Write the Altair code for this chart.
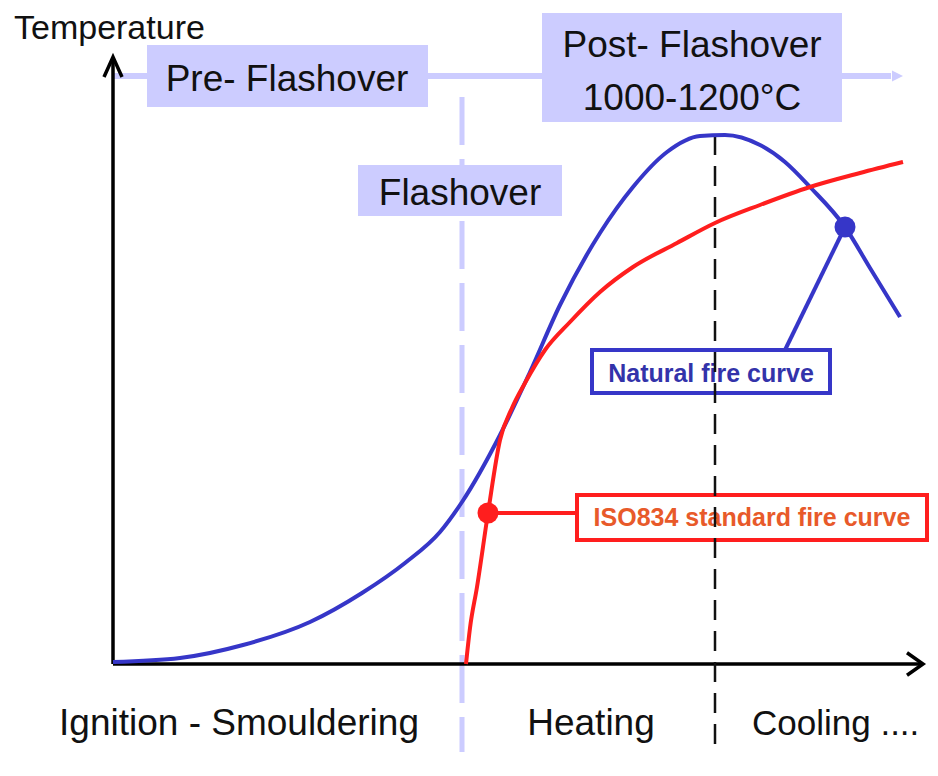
import altair as alt
import pandas as pd

# ---------------- data (schematic units: time → right, temperature → up) -------------
natural_time = [0, 67, 130, 197, 249, 292, 327, 349, 387, 417, 447, 487, 520, 554, 587, 612, 647, 672, 697, 732, 757, 787]
natural_temp = [2, 6, 19, 42, 71, 101, 132, 162, 229, 292, 359, 431, 477, 512, 528, 529, 519, 502, 477, 437, 396, 347]

iso_time = [353, 357, 364, 375, 387, 399, 412, 432, 457, 487, 520, 564, 602, 647, 697, 747, 790]
iso_temp = [0, 36, 77, 151, 224, 256, 281, 314, 342, 372, 397, 421, 441, 459, 477, 491, 502]

flashover_time = 349
peak_time = 602

phase_labels = ["Ignition - Smouldering", "Heating", "Cooling ...."]
box_labels = ["Pre- Flashover", "Post- Flashover", "1000-1200°C", "Flashover"]

# ---------------- scales ------------------------------------------------------------
W, H = 922, 760
xs = alt.Scale(domain=[-105, 817], nice=False, zero=False)
ys = alt.Scale(domain=[-104, 656], nice=False, zero=False)

LAV = "#ccccff"
BLUE = "#3636c8"
RED = "#ff1e1e"
FONT = "Liberation Sans"


def enc(**kw):
    out = {}
    for k, v in kw.items():
        if k == "x":
            out["x"] = alt.X(f"{v}:Q", scale=xs, axis=None)
        elif k == "y":
            out["y"] = alt.Y(f"{v}:Q", scale=ys, axis=None)
        elif k == "x2":
            out["x2"] = alt.X2(f"{v}:Q")
        elif k == "y2":
            out["y2"] = alt.Y2(f"{v}:Q")
        else:
            out[k] = v
    return out


# lavender phase arrow (horizontal)
phase_line = alt.Chart(pd.DataFrame({"x": [0], "x2": [778], "y": [588]})).mark_rule(
    color=LAV, strokeWidth=6).encode(**enc(x="x", x2="x2", y="y"))

phase_heads = alt.Chart(pd.DataFrame({"x": [790, 346], "y": [588, 588], "s": [484, 144]})).mark_point(
    shape="M 0 0 L -1 -0.5 L -1 0.5 Z", filled=True, color=LAV, opacity=1).encode(
    **enc(x="x", y="y"), size=alt.Size("s:Q", scale=None, legend=None))

# lavender dashed flashover line
flash_line = alt.Chart(pd.DataFrame({"x": [flashover_time], "y": [567], "y2": [-88]})).mark_rule(
    color=LAV, strokeWidth=5, strokeDash=[48, 14]).encode(**enc(x="x", y="y", y2="y2"))

# lavender boxes
lav_boxes = alt.Chart(pd.DataFrame({
    "x": [34, 429, 245], "x2": [315, 729, 449],
    "y": [619, 651, 499], "y2": [557, 542, 448]})).mark_rect(color=LAV, opacity=1).encode(
    **enc(x="x", x2="x2", y="y", y2="y2"))

# axes
axes_lines = alt.Chart(pd.DataFrame({"x": [0, 0], "x2": [0, 808], "y": [0, 0], "y2": [605, 0]})).mark_rule(
    color="black", strokeWidth=3.5).encode(**enc(x="x", x2="x2", y="y", y2="y2"))
y_head = alt.Chart(pd.DataFrame({"x": [0], "y": [607]})).mark_point(
    shape="M -0.45 1 L 0 0 L 0.45 1", filled=False, color="black", strokeWidth=3.5, size=1600,
    opacity=1).encode(**enc(x="x", y="y"))
x_head = alt.Chart(pd.DataFrame({"x": [810], "y": [0]})).mark_point(
    shape="M -1 -0.7 L 0 0 L -1 0.7", filled=False, color="black", strokeWidth=3.5, size=1024,
    opacity=1).encode(**enc(x="x", y="y"))

# curves
nat_df = pd.DataFrame({"x": natural_time, "y": natural_temp})
iso_df = pd.DataFrame({"x": iso_time, "y": iso_temp})
nat_line = alt.Chart(nat_df).mark_line(color=BLUE, strokeWidth=4, interpolate="monotone").encode(
    **enc(x="x", y="y"))
iso_line = alt.Chart(iso_df).mark_line(color=RED, strokeWidth=4, interpolate="monotone").encode(
    **enc(x="x", y="y"))

# black dashed peak line
peak_line = alt.Chart(pd.DataFrame({"x": [peak_time], "y": [529], "y2": [-81]})).mark_rule(
    color="#111111", strokeWidth=2.5, strokeDash=[20, 11]).encode(**enc(x="x", y="y", y2="y2"))

# connectors
blue_conn = alt.Chart(pd.DataFrame({"x": [732], "x2": [672], "y": [437], "y2": [314]})).mark_rule(
    color=BLUE, strokeWidth=4).encode(**enc(x="x", x2="x2", y="y", y2="y2"))
red_conn = alt.Chart(pd.DataFrame({"x": [375], "x2": [464], "y": [151]})).mark_rule(
    color=RED, strokeWidth=4).encode(**enc(x="x", x2="x2", y="y"))

# legend boxes
nat_box = alt.Chart(pd.DataFrame({"x": [479], "x2": [717], "y": [314], "y2": [271]})).mark_rect(
    fill="white", stroke=BLUE, strokeWidth=4).encode(**enc(x="x", x2="x2", y="y", y2="y2"))
iso_box = alt.Chart(pd.DataFrame({"x": [464], "x2": [814], "y": [169], "y2": [124]})).mark_rect(
    fill="white", stroke=RED, strokeWidth=4).encode(**enc(x="x", x2="x2", y="y", y2="y2"))

# markers
markers = alt.Chart(pd.DataFrame({"x": [375, 732], "y": [151, 437], "c": [RED, BLUE]})).mark_point(
    shape="circle", filled=True, size=440, opacity=1).encode(
    **enc(x="x", y="y"), color=alt.Color("c:N", scale=None, legend=None))

# texts
big_text_df = pd.DataFrame({
    "t": box_labels + phase_labels[:2],
    "x": [174, 579, 579, 347, 126, 478],
    "y": [573, 607, 554, 459, -71, -71]})
big_text = alt.Chart(big_text_df).mark_text(
    font=FONT, fontSize=37, color="#111111", align="center", baseline="alphabetic").encode(
    **enc(x="x", y="y"), text="t:N")

temp_text = alt.Chart(pd.DataFrame({"t": ["Temperature"], "x": [-99], "y": [625]})).mark_text(
    font=FONT, fontSize=34, color="#111111", align="left", baseline="alphabetic").encode(
    **enc(x="x", y="y"), text="t:N")

cool_text = alt.Chart(pd.DataFrame({"t": [phase_labels[2]], "x": [639], "y": [-71]})).mark_text(
    font=FONT, fontSize=35, color="#111111", align="left", baseline="alphabetic").encode(
    **enc(x="x", y="y"), text="t:N")

nat_text = alt.Chart(pd.DataFrame({"t": ["Natural fire curve"], "x": [598], "y": [282]})).mark_text(
    font=FONT, fontSize=25, fontWeight="bold", color="#3333aa", align="center",
    baseline="alphabetic").encode(**enc(x="x", y="y"), text="t:N")
iso_text = alt.Chart(pd.DataFrame({"t": ["ISO834 standard fire curve"], "x": [639], "y": [138]})).mark_text(
    font=FONT, fontSize=25, fontWeight="bold", color="#e85a2a", align="center",
    baseline="alphabetic").encode(**enc(x="x", y="y"), text="t:N")

chart = alt.layer(
    phase_line, flash_line, phase_heads, lav_boxes,
    axes_lines, y_head, x_head,
    blue_conn, red_conn, nat_box, iso_box,
    nat_text, iso_text,
    peak_line, nat_line, iso_line, markers,
    big_text, temp_text, cool_text,
).properties(
    width=W, height=H, autosize=alt.AutoSizeParams(type="none"), padding=0, background="white"
).configure_view(stroke=None)

chart.save("out.html", embed_options={"renderer": "svg", "actions": False})
